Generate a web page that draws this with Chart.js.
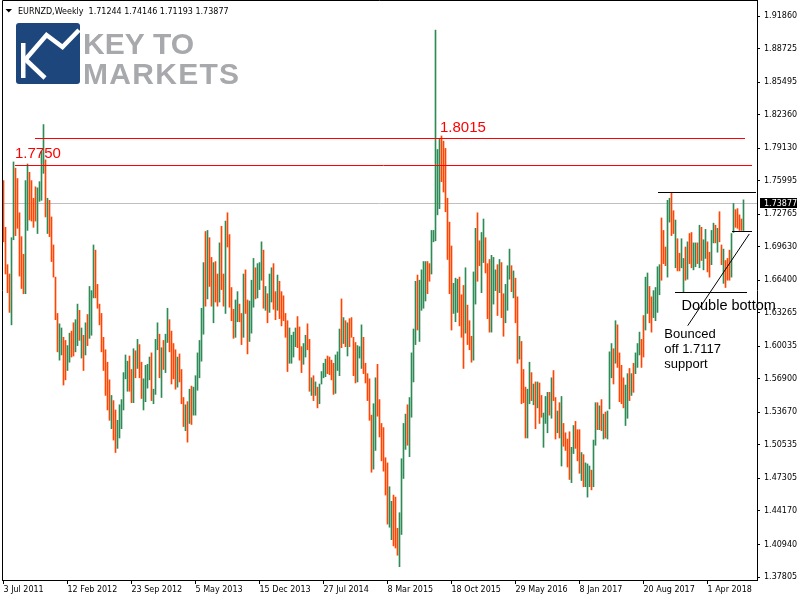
<!DOCTYPE html>
<html>
<head>
<meta charset="utf-8">
<script src="https://cdn.jsdelivr.net/npm/chart.js@4"></script>
<style>
  html, body { margin: 0; padding: 0; background: #fff; }
  canvas { display: block; }
</style>
</head>
<body>
<canvas id="chart" width="800" height="600"></canvas>
<script>
const symbol_name = "EURNZD,Weekly";
const last_ohlc = ["1.71244", "1.74146", "1.71193", "1.73877"];
const last_price = 1.73877;

// weekly bars, index 0 = week of 3 Jul 2011
const week_ticks = [0, 32, 64, 96, 128, 160, 192, 224, 256, 288, 320, 352];
const week_labels = ["3 Jul 2011", "12 Feb 2012", "23 Sep 2012", "5 May 2013", "15 Dec 2013", "27 Jul 2014",
  "8 Mar 2015", "18 Oct 2015", "29 May 2016", "8 Jan 2017", "20 Aug 2017", "1 Apr 2018"];

const price_ticks = [1.37805, 1.40940, 1.44170, 1.47305, 1.50535, 1.53670, 1.56900, 1.60035, 1.63265,
  1.66400, 1.69630, 1.72765, 1.75995, 1.79130, 1.82360, 1.85495, 1.88725, 1.91860];

const highs = [
  1.760,1.715,1.679,1.670,1.705,1.778,1.772,1.762,1.729,1.706,
  1.689,1.760,1.776,1.768,1.760,1.743,1.754,1.753,1.759,1.788,
  1.814,1.780,1.743,1.741,1.725,1.698,1.667,1.632,1.622,1.618,
  1.609,1.606,1.601,1.613,1.615,1.623,1.626,1.641,1.635,1.618,
  1.611,1.623,1.631,1.658,1.654,1.698,1.693,1.660,1.641,1.632,
  1.609,1.597,1.585,1.568,1.553,1.548,1.539,1.529,1.544,1.549,
  1.575,1.592,1.586,1.591,1.578,1.598,1.596,1.607,1.602,1.585,
  1.569,1.582,1.583,1.590,1.594,1.559,1.607,1.623,1.612,1.599,
  1.606,1.612,1.637,1.626,1.615,1.603,1.597,1.590,1.593,1.578,
  1.551,1.544,1.547,1.559,1.562,1.561,1.572,1.594,1.606,1.637,
  1.681,1.711,1.712,1.705,1.686,1.681,1.682,1.670,1.700,1.716,
  1.670,1.721,1.729,1.708,1.657,1.636,1.645,1.653,1.641,1.632,
  1.670,1.674,1.645,1.644,1.664,1.685,1.676,1.680,1.681,1.701,
  1.693,1.658,1.651,1.670,1.676,1.680,1.653,1.669,1.663,1.653,
  1.649,1.632,1.625,1.618,1.611,1.614,1.618,1.629,1.619,1.600,
  1.603,1.611,1.622,1.607,1.570,1.572,1.566,1.561,1.564,1.576,
  1.584,1.588,1.591,1.590,1.587,1.584,1.592,1.595,1.617,1.646,
  1.628,1.625,1.623,1.627,1.628,1.609,1.604,1.601,1.600,1.621,
  1.609,1.584,1.574,1.569,1.534,1.545,1.570,1.583,1.549,1.526,
  1.522,1.493,1.488,1.465,1.451,1.457,1.455,1.425,1.440,1.492,
  1.526,1.535,1.544,1.551,1.594,1.617,1.663,1.669,1.664,1.674,
  1.682,1.682,1.682,1.680,1.712,1.712,1.905,1.790,1.800,1.803,
  1.798,1.791,1.743,1.720,1.697,1.661,1.666,1.665,1.667,1.650,
  1.659,1.676,1.640,1.625,1.610,1.672,1.714,1.729,1.702,1.710,
  1.723,1.705,1.680,1.684,1.688,1.686,1.674,1.679,1.684,1.681,
  1.651,1.660,1.678,1.694,1.678,1.673,1.666,1.648,1.610,1.605,
  1.578,1.561,1.559,1.585,1.575,1.564,1.566,1.566,1.565,1.553,
  1.536,1.552,1.556,1.556,1.570,1.577,1.551,1.538,1.546,1.552,
  1.526,1.517,1.511,1.518,1.503,1.524,1.528,1.520,1.520,1.498,
  1.496,1.488,1.487,1.485,1.481,1.510,1.546,1.546,1.543,1.549,
  1.535,1.537,1.538,1.595,1.603,1.598,1.625,1.621,1.594,1.582,
  1.570,1.563,1.574,1.579,1.574,1.584,1.594,1.603,1.614,1.607,
  1.630,1.667,1.671,1.658,1.648,1.654,1.657,1.677,1.679,1.724,
  1.712,1.696,1.741,1.743,1.748,1.731,1.722,1.704,1.690,1.704,
  1.685,1.696,1.701,1.709,1.710,1.700,1.700,1.700,1.717,1.715,
  1.703,1.713,1.701,1.691,1.712,1.719,1.717,1.714,1.730,1.698,
  1.694,1.683,1.685,1.693,1.709,1.738,1.732,1.733,1.727,1.723,
  1.74146
];

const lows = [
  1.701,1.670,1.652,1.633,1.621,1.703,1.707,1.714,1.668,1.656,
  1.651,1.651,1.712,1.722,1.721,1.715,1.721,1.709,1.740,1.741,
  1.767,1.725,1.709,1.706,1.682,1.667,1.626,1.595,1.587,1.592,
  1.563,1.568,1.577,1.585,1.590,1.591,1.595,1.601,1.606,1.589,
  1.577,1.592,1.601,1.608,1.611,1.647,1.647,1.637,1.621,1.595,
  1.577,1.553,1.539,1.529,1.521,1.510,1.498,1.502,1.512,1.521,
  1.539,1.569,1.557,1.557,1.546,1.546,1.570,1.579,1.570,1.550,
  1.539,1.547,1.560,1.568,1.548,1.545,1.554,1.597,1.570,1.551,
  1.578,1.575,1.604,1.595,1.564,1.569,1.559,1.561,1.566,1.545,
  1.523,1.519,1.508,1.526,1.525,1.534,1.534,1.558,1.570,1.586,
  1.612,1.639,1.646,1.658,1.639,1.623,1.643,1.639,1.643,1.655,
  1.639,1.632,1.696,1.638,1.625,1.608,1.609,1.624,1.624,1.602,
  1.609,1.632,1.593,1.605,1.613,1.638,1.646,1.647,1.655,1.664,
  1.637,1.635,1.623,1.633,1.643,1.636,1.626,1.635,1.627,1.620,
  1.625,1.609,1.576,1.584,1.584,1.590,1.600,1.599,1.587,1.575,
  1.583,1.590,1.597,1.557,1.553,1.548,1.553,1.541,1.545,1.564,
  1.570,1.571,1.574,1.573,1.568,1.554,1.555,1.577,1.572,1.599,
  1.603,1.600,1.591,1.600,1.609,1.572,1.565,1.566,1.589,1.579,
  1.574,1.565,1.548,1.529,1.479,1.482,1.500,1.533,1.513,1.490,
  1.480,1.457,1.429,1.426,1.414,1.408,1.406,1.399,1.388,1.419,
  1.473,1.501,1.505,1.494,1.532,1.566,1.602,1.616,1.605,1.635,
  1.637,1.644,1.651,1.663,1.670,1.701,1.702,1.727,1.733,1.759,
  1.749,1.730,1.684,1.651,1.616,1.632,1.624,1.633,1.620,1.609,
  1.579,1.613,1.602,1.597,1.585,1.587,1.641,1.663,1.678,1.652,
  1.681,1.671,1.627,1.614,1.614,1.641,1.654,1.630,1.652,1.628,
  1.610,1.623,1.635,1.665,1.653,1.647,1.623,1.584,1.588,1.545,
  1.546,1.512,1.512,1.545,1.548,1.544,1.521,1.541,1.526,1.532,
  1.503,1.526,1.517,1.534,1.531,1.548,1.511,1.517,1.512,1.485,
  1.504,1.500,1.484,1.472,1.469,1.497,1.502,1.490,1.478,1.471,
  1.465,1.465,1.455,1.465,1.462,1.465,1.505,1.520,1.520,1.519,
  1.511,1.512,1.511,1.540,1.570,1.564,1.584,1.580,1.547,1.545,
  1.541,1.524,1.531,1.548,1.553,1.556,1.574,1.580,1.592,1.580,
  1.590,1.616,1.632,1.623,1.614,1.628,1.625,1.633,1.650,1.664,
  1.680,1.678,1.667,1.720,1.707,1.709,1.676,1.673,1.673,1.676,
  1.652,1.664,1.665,1.680,1.676,1.674,1.677,1.680,1.676,1.683,
  1.674,1.685,1.672,1.667,1.679,1.700,1.700,1.691,1.701,1.679,
  1.661,1.657,1.664,1.664,1.667,1.710,1.715,1.714,1.712,1.712,
  1.71193
];

// U = bull bar (close above open), D = bear bar
const directions = (
  "DDDDUUDDDD" + "DUUDDDDUUU" + "UDUDDDDDUU" + "DDUUDDUUDU" + "DUDUUUDDDD" +
  "DDDDUDDUUU" + "UUUDDUDUDD" + "UUUUDUUUDU" + "DUUDDDDUDD" + "DUDUDUUUUU" +
  "UDUDDUDDUD" + "DUDDDDUUDD" + "UDDUUUDUUU" + "DUDUUDDUDD" + "DDDUUUUDDD" +
  "UUDDUDUDUU" + "UUDDDDUUUD" + "UDUDDDDUUU" + "DDDDDUUDDD" + "DDDUUDDDUU" +
  "UUDUUUUDUU" + "UUDDUUUUUD" + "DDDDDUUUDD" + "DUDDDUUDDU" + "UDDDUUUDUD" +
  "DUUUDUDDUD" + "DDUUDUDUDD" + "UUUDUDDUDU" + "DDDDUUDDDU" + "DUUUDUUDUD" +
  "UDUUUDUDDD" + "DUUDUDUUUD" + "DUUDDUUUUD" + "DDUUDDUDDU" + "UDUDDUUDUD" +
  "UUDDUUDUDD" + "UDDDUUDDDD" + "U"
).split("");

// drawn objects: level, first and last week
const level_lines = [
  { price: 1.8015, from: 15.75, to: 370.75, color: "#ff0000" },
  { price: 1.7750, from: 5.75, to: 374.25, color: "#ff0000" },
  { price: 1.7490, from: 327.25, to: 376.25, color: "#000000" },
  { price: 1.7117, from: 364.25, to: 374.25, color: "#000000" },
  { price: 1.6527, from: 335.75, to: 371.75, color: "#000000" },
];
const trend_line = [[342.1, 1.6202], [372.9, 1.7086]];

const bar_up = "#2e8b57";
const bar_down = "#ff4500";

Chart.defaults.font.family = "'DejaVu Sans', sans-serif";
Chart.defaults.font.size = 8;
Chart.defaults.color = "#000";

function draw_logo(ctx) {
  ctx.save();
  ctx.fillStyle = "#1d467c";
  ctx.beginPath();
  ctx.roundRect(16, 23, 64, 61, 3);
  ctx.fill();
  ctx.fillStyle = "#fff";
  ctx.fillRect(21, 43, 4.5, 35);
  ctx.strokeStyle = "#fff";
  ctx.lineWidth = 4.5;
  ctx.lineJoin = "miter";
  ctx.beginPath();
  ctx.moveTo(25, 60);
  ctx.lineTo(46.5, 35);
  ctx.lineTo(62.5, 47);
  ctx.lineTo(79, 30);
  ctx.stroke();
  ctx.beginPath();
  ctx.moveTo(25, 59);
  ctx.lineTo(45, 78);
  ctx.stroke();
  ctx.fillStyle = "#a7a9ac";
  ctx.font = "bold 30px 'Liberation Sans'";
  ctx.textBaseline = "alphabetic";
  ctx.textAlign = "left";
  ctx.fillText("KEY TO", 83, 53.5);
  ctx.letterSpacing = "1.3px";
  ctx.fillText("MARKETS", 83, 83.5);
  ctx.restore();
}

const overlay_plugin = {
  id: "overlay",
  beforeDraw(chart) {
    const ctx = chart.ctx;
    ctx.save();
    ctx.fillStyle = "#fff";
    ctx.fillRect(0, 0, chart.width, chart.height);
    ctx.restore();
  },
  beforeDatasetsDraw(chart) {
    const { ctx, chartArea, scales } = chart;
    const y = Math.round(scales.y.getPixelForValue(last_price)) + 0.5;
    ctx.save();
    ctx.strokeStyle = "#c0c0c0";
    ctx.lineWidth = 1;
    ctx.beginPath();
    ctx.moveTo(chartArea.left, y);
    ctx.lineTo(chartArea.right, y);
    ctx.stroke();
    ctx.restore();
  },
  afterDatasetsDraw(chart) {
    const { ctx, chartArea, scales } = chart;
    const sx = scales.x, sy = scales.y;
    ctx.save();
    ctx.lineWidth = 1;
    level_lines.forEach((l) => {
      const y = Math.round(sy.getPixelForValue(l.price)) + 0.5;
      ctx.strokeStyle = l.color;
      ctx.beginPath();
      ctx.moveTo(Math.round(sx.getPixelForValue(l.from)), y);
      ctx.lineTo(Math.round(sx.getPixelForValue(l.to)), y);
      ctx.stroke();
    });
    ctx.strokeStyle = "#000";
    ctx.beginPath();
    ctx.moveTo(sx.getPixelForValue(trend_line[0][0]), sy.getPixelForValue(trend_line[0][1]));
    ctx.lineTo(sx.getPixelForValue(trend_line[1][0]), sy.getPixelForValue(trend_line[1][1]));
    ctx.stroke();

    // level captions
    ctx.textBaseline = "alphabetic";
    ctx.textAlign = "left";
    ctx.font = "15px 'Liberation Sans'";
    ctx.fillStyle = "#ff0000";
    ctx.fillText("1.7750", 15, sy.getPixelForValue(1.7750) - 7.5);
    ctx.fillText("1.8015", 440, sy.getPixelForValue(1.8015) - 5.5);

    ctx.fillStyle = "#000";
    ctx.font = "14.5px 'Liberation Sans'";
    ctx.fillText("Double bottom", 681.5, sy.getPixelForValue(1.6527) + 18);
    ctx.font = "13px 'Liberation Sans'";
    const note_x = sx.getPixelForValue(330.4);
    const note_y = sy.getPixelForValue(1.6086);
    ["Bounced", "off 1.7117", "support"].forEach((t, k) => {
      ctx.fillText(t, note_x, note_y + k * 15.3);
    });

    // header line
    ctx.font = "8px 'DejaVu Sans'";
    ctx.fillStyle = "#000";
    ctx.beginPath();
    ctx.moveTo(5.5, 9);
    ctx.lineTo(12, 9);
    ctx.lineTo(8.75, 12.5);
    ctx.closePath();
    ctx.fill();
    ctx.fillText(symbol_name + "  " + last_ohlc.join(" "), 18, 14);

    draw_logo(ctx);

    // frame on left and top
    ctx.strokeStyle = "#000";
    ctx.beginPath();
    ctx.moveTo(chartArea.left + 0.5, chartArea.bottom);
    ctx.lineTo(chartArea.left + 0.5, chartArea.top + 0.5);
    ctx.lineTo(chartArea.right, chartArea.top + 0.5);
    ctx.stroke();
    ctx.restore();
  },
  afterDraw(chart) {
    const { ctx, scales } = chart;
    const y = Math.round(scales.y.getPixelForValue(last_price));
    ctx.save();
    ctx.fillStyle = "#000";
    ctx.fillRect(760, y - 5, 37, 10);
    ctx.fillStyle = "#fff";
    ctx.font = "8px 'DejaVu Sans'";
    ctx.textBaseline = "middle";
    ctx.textAlign = "left";
    ctx.fillText(last_ohlc[3], 764, y + 0.5);
    ctx.restore();
  },
};

const bar_chart = new Chart(document.getElementById("chart"), {
  type: "bar",
  data: {
    datasets: [
      {
        data: highs.map((h, i) => ({ x: i, y: [lows[i], h] })),
        backgroundColor: directions.map((d) => (d === "U" ? bar_up : bar_down)),
        borderWidth: 0,
        barThickness: 1,
        grouped: false,
      },
    ],
  },
  options: {
    responsive: false,
    animation: false,
    devicePixelRatio: 1,
    layout: { padding: { left: 2, top: 0, right: 0, bottom: 0 }, autoPadding: false },
    plugins: { legend: { display: false }, tooltip: { enabled: false } },
    scales: {
      x: {
        type: "linear",
        min: -0.75,
        max: 376.75,
        offset: false,
        grid: { offset: false, drawOnChartArea: false, tickLength: 4, color: "#000" },
        border: { display: true, color: "#000" },
        ticks: {
          autoSkip: false,
          maxRotation: 0,
          minRotation: 0,
          align: "start",
          padding: 1,
          callback: (v, idx) => week_labels[idx],
        },
        afterBuildTicks: (scale) => {
          scale.ticks = week_ticks.map((v) => ({ value: v }));
        },
        afterFit: (scale) => {
          scale.height = 20;
          scale.paddingLeft = 0;
          scale.paddingRight = 0;
        },
      },
      y: {
        type: "linear",
        position: "right",
        min: 1.37516,
        max: 1.93402,
        grid: { drawOnChartArea: false, tickLength: 3, color: "#000" },
        border: { display: true, color: "#000" },
        ticks: {
          autoSkip: false,
          padding: 4,
          callback: (v) => v.toFixed(5),
        },
        afterBuildTicks: (scale) => {
          scale.ticks = price_ticks.map((v) => ({ value: v }));
        },
        afterFit: (scale) => {
          scale.width = 43;
          scale.paddingTop = 0;
          scale.paddingBottom = 0;
        },
      },
    },
  },
  plugins: [overlay_plugin],
});
</script>
</body>
</html>
